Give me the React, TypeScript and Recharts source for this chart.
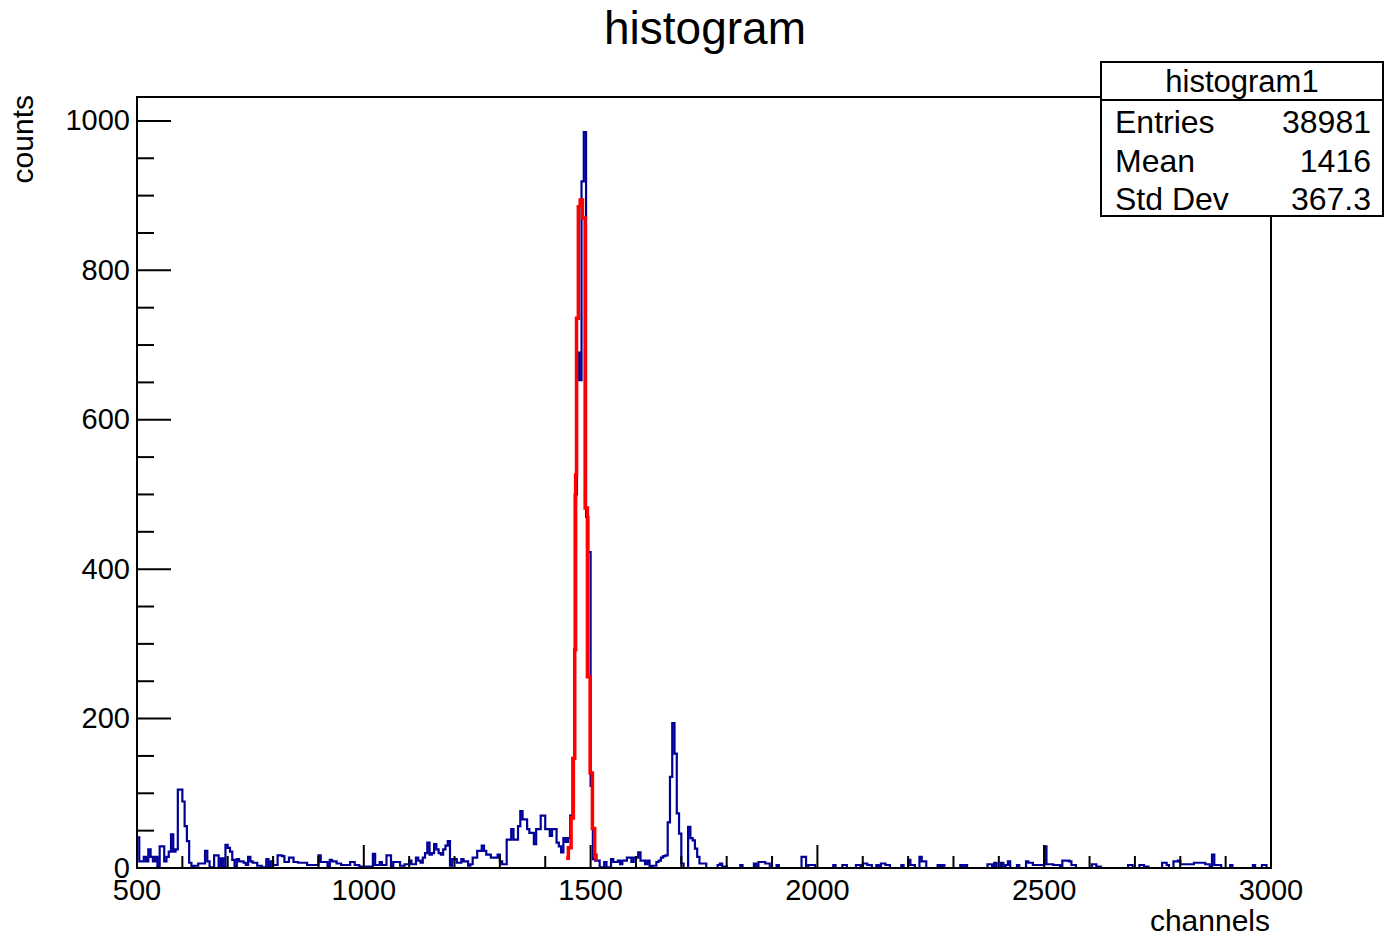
import React from "react";
import { ComposedChart, Line, XAxis, YAxis } from "recharts";

// histogram bins, 5 channels wide, starting at channel 500
const BIN_START = 500;
const BIN_WIDTH = 5;

const counts500to995 = [
  41, 9, 9, 15, 9, 25, 15, 9, 15, 1,
  29, 29, 9, 15, 22, 45, 22, 25, 105, 105,
  89, 56, 36, 7, 1, 3, 3, 6, 6, 6,
  23, 9, 1, 1, 17, 17, 1, 13, 1, 31,
  27, 22, 11, 1, 12, 9, 9, 7, 4, 15,
  9, 7, 7, 3, 3, 1, 1, 12, 1, 9,
  4, 4, 17, 17, 16, 8, 8, 14, 14, 8,
  8, 7, 7, 7, 7, 4, 4, 4, 4, 4,
  17, 8, 8, 8, 1, 11, 9, 9, 6, 6,
  4, 4, 4, 4, 8, 8, 4, 4, 2, 2,
];

const counts1000to1495 = [
  2, 2, 2, 2, 19, 4, 4, 8, 4, 4,
  17, 17, 1, 8, 8, 8, 3, 3, 5, 5,
  10, 5, 5, 14, 10, 7, 14, 20, 34, 18,
  20, 32, 25, 20, 18, 25, 30, 36, 3, 12,
  12, 7, 7, 12, 9, 9, 3, 5, 14, 14,
  23, 23, 30, 23, 18, 18, 14, 14, 14, 18,
  9, 5, 5, 38, 38, 52, 38, 38, 56, 76,
  65, 65, 52, 47, 47, 32, 52, 52, 70, 70,
  52, 52, 43, 52, 52, 34, 29, 21, 40, 35,
  40, 70, 147, 500, 690, 653, 919, 985, 470, 423,
];

const counts1500to1995 = [
  110, 12, 10, 10, 1, 1, 8, 1, 1, 12,
  8, 8, 10, 5, 10, 10, 14, 14, 8, 14,
  14, 21, 10, 10, 5, 10, 1, 3, 3, 8,
  10, 14, 16, 17, 61, 122, 194, 153, 73, 46,
  6, 0, 0, 55, 40, 37, 26, 15, 6, 6,
  6, 0, 0, 0, 0, 0, 4, 6, 2, 2,
  0, 0, 0, 0, 0, 0, 4, 0, 0, 0,
  0, 0, 6, 0, 8, 8, 8, 6, 6, 0,
  0, 0, 4, 0, 0, 0, 0, 0, 0, 0,
  0, 0, 0, 15, 15, 0, 4, 4, 4, 0,
];

const counts2000to2495 = [
  0, 0, 0, 0, 0, 0, 0, 4, 0, 0,
  0, 4, 4, 0, 0, 0, 0, 4, 4, 0,
  6, 6, 4, 4, 0, 0, 4, 0, 6, 6,
  4, 4, 0, 0, 0, 0, 0, 4, 0, 0,
  11, 4, 4, 0, 0, 15, 9, 9, 0, 0,
  0, 0, 0, 4, 0, 4, 0, 0, 0, 0,
  0, 0, 0, 4, 0, 4, 0, 0, 0, 0,
  0, 0, 0, 0, 0, 5, 5, 0, 7, 0,
  0, 7, 0, 4, 9, 0, 0, 0, 4, 0,
  0, 0, 9, 7, 7, 4, 4, 4, 4, 4,
];

const counts2500to2995 = [
  29, 5, 5, 5, 4, 4, 4, 0, 10, 10,
  10, 9, 4, 4, 0, 0, 0, 0, 0, 0,
  0, 5, 5, 2, 2, 0, 0, 0, 0, 0,
  0, 0, 0, 0, 0, 0, 0, 4, 4, 0,
  0, 0, 4, 4, 2, 2, 0, 0, 0, 0,
  0, 0, 7, 7, 4, 0, 0, 9, 9, 10,
  5, 5, 5, 5, 5, 5, 7, 7, 7, 7,
  7, 5, 5, 0, 18, 4, 4, 4, 0, 0,
  0, 0, 4, 0, 0, 0, 0, 0, 0, 0,
  0, 0, 4, 0, 0, 0, 4, 4, 0, 0,
];

// gaussian fit, drawn as steps
const fitChannels = [1446, 1451, 1457, 1462, 1465, 1467, 1469, 1473, 1477, 1482, 1488, 1493, 1499, 1504, 1509, 1512];
const fitCounts = [13, 27, 67, 147, 292, 526, 736, 885, 894, 870, 482, 256, 127, 53, 17, 10];

const xTicks = [500, 600, 700, 800, 900, 1000, 1100, 1200, 1300, 1400, 1500, 1600, 1700, 1800, 1900, 2000, 2100, 2200, 2300, 2400, 2500, 2600, 2700, 2800, 2900, 3000];
const yTicks = [0, 50, 100, 150, 200, 250, 300, 350, 400, 450, 500, 550, 600, 650, 700, 750, 800, 850, 900, 950, 1000];

const statLabels = ["Entries", "Mean", "Std Dev"];
const statValues = ["38981", "1416", "367.3"];

const FONT = '"Liberation Sans", Arial, Helvetica, sans-serif';
const W = 1384;
const H = 938;
const PLOT_LEFT = 137;
const PLOT_RIGHT = 1271;
const PLOT_TOP = 97;
const PLOT_BOTTOM = 868;
const Y_AXIS_W = 60;
const X_AXIS_H = 40;

const allCounts = [...counts500to995, ...counts1000to1495, ...counts1500to1995, ...counts2000to2495, ...counts2500to2995];
const histData = allCounts.map((v, i) => ({ ch: BIN_START + i * BIN_WIDTH, v }));
histData.push({ ch: BIN_START + allCounts.length * BIN_WIDTH, v: allCounts[allCounts.length - 1] });
const fitData = fitChannels.map((ch, i) => ({ ch, v: fitCounts[i] }));

function XTick(props: any) {
  const { x, payload } = props;
  const major = payload.value % 500 === 0;
  return (
    <g>
      <line x1={x} x2={x} y1={PLOT_BOTTOM} y2={PLOT_BOTTOM - (major ? 23 : 12)} stroke="#000" strokeWidth={2} />
      {major && (
        <text x={x} y={900} textAnchor="middle" fontSize={29} fontFamily={FONT} fill="#000">
          {payload.value}
        </text>
      )}
    </g>
  );
}

function YTick(props: any) {
  const { y, payload } = props;
  const major = payload.value % 200 === 0;
  return (
    <g>
      <line x1={PLOT_LEFT} x2={PLOT_LEFT + (major ? 34 : 17)} y1={y} y2={y} stroke="#000" strokeWidth={2} />
      {major && (
        <text x={130} y={y + 9.5} textAnchor="end" fontSize={29} fontFamily={FONT} fill="#000">
          {payload.value}
        </text>
      )}
    </g>
  );
}

export default function App() {
  return (
    <div style={{ position: "absolute", left: 0, top: 0, width: W, height: H, background: "#fff" }}>
      <div style={{ position: "absolute", left: 0, top: 0 }}>
        <ComposedChart
          width={W}
          height={H}
          margin={{
            top: PLOT_TOP,
            right: W - PLOT_RIGHT,
            bottom: H - PLOT_BOTTOM - X_AXIS_H,
            left: PLOT_LEFT - Y_AXIS_W,
          }}
        >
          <XAxis
            dataKey="ch"
            type="number"
            domain={[500, 3000]}
            ticks={xTicks}
            interval={0}
            height={X_AXIS_H}
            axisLine={false}
            tickLine={false}
            tick={XTick}
            allowDataOverflow
          />
          <YAxis
            type="number"
            domain={[0, 1032]}
            ticks={yTicks}
            interval={0}
            width={Y_AXIS_W}
            axisLine={false}
            tickLine={false}
            tick={YTick}
            allowDataOverflow
          />
          <Line
            data={histData}
            dataKey="v"
            type="stepAfter"
            stroke="#000099"
            strokeWidth={2.2}
            dot={false}
            isAnimationActive={false}
          />
          <Line
            data={fitData}
            dataKey="v"
            type="stepAfter"
            stroke="#ff0000"
            strokeWidth={3.5}
            dot={false}
            isAnimationActive={false}
          />
        </ComposedChart>
      </div>
      <svg width={W} height={H} style={{ position: "absolute", left: 0, top: 0, pointerEvents: "none" }}>
        <rect
          x={PLOT_LEFT}
          y={PLOT_TOP}
          width={PLOT_RIGHT - PLOT_LEFT}
          height={PLOT_BOTTOM - PLOT_TOP}
          fill="none"
          stroke="#000"
          strokeWidth={2}
        />
        <text x={705} y={44} textAnchor="middle" fontSize={46} fontFamily={FONT} fill="#000">
          histogram
        </text>
        <text x={1270} y={931} textAnchor="end" fontSize={30} fontFamily={FONT} fill="#000">
          channels
        </text>
        <text
          x={0}
          y={0}
          transform="translate(33,95) rotate(-90)"
          textAnchor="end"
          fontSize={30}
          fontFamily={FONT}
          fill="#000"
        >
          counts
        </text>
        <rect x={1101} y={62} width={282} height={154} fill="#fff" stroke="#000" strokeWidth={2} />
        <line x1={1101} x2={1383} y1={100} y2={100} stroke="#000" strokeWidth={2} />
        <text x={1242} y={92} textAnchor="middle" fontSize={31} fontFamily={FONT} fill="#000">
          histogram1
        </text>
        {statLabels.map((label, i) => (
          <g key={label}>
            <text x={1115} y={133 + i * 38.5} fontSize={32} fontFamily={FONT} fill="#000">
              {label}
            </text>
            <text x={1371} y={133 + i * 38.5} textAnchor="end" fontSize={32} fontFamily={FONT} fill="#000">
              {statValues[i]}
            </text>
          </g>
        ))}
      </svg>
    </div>
  );
}
